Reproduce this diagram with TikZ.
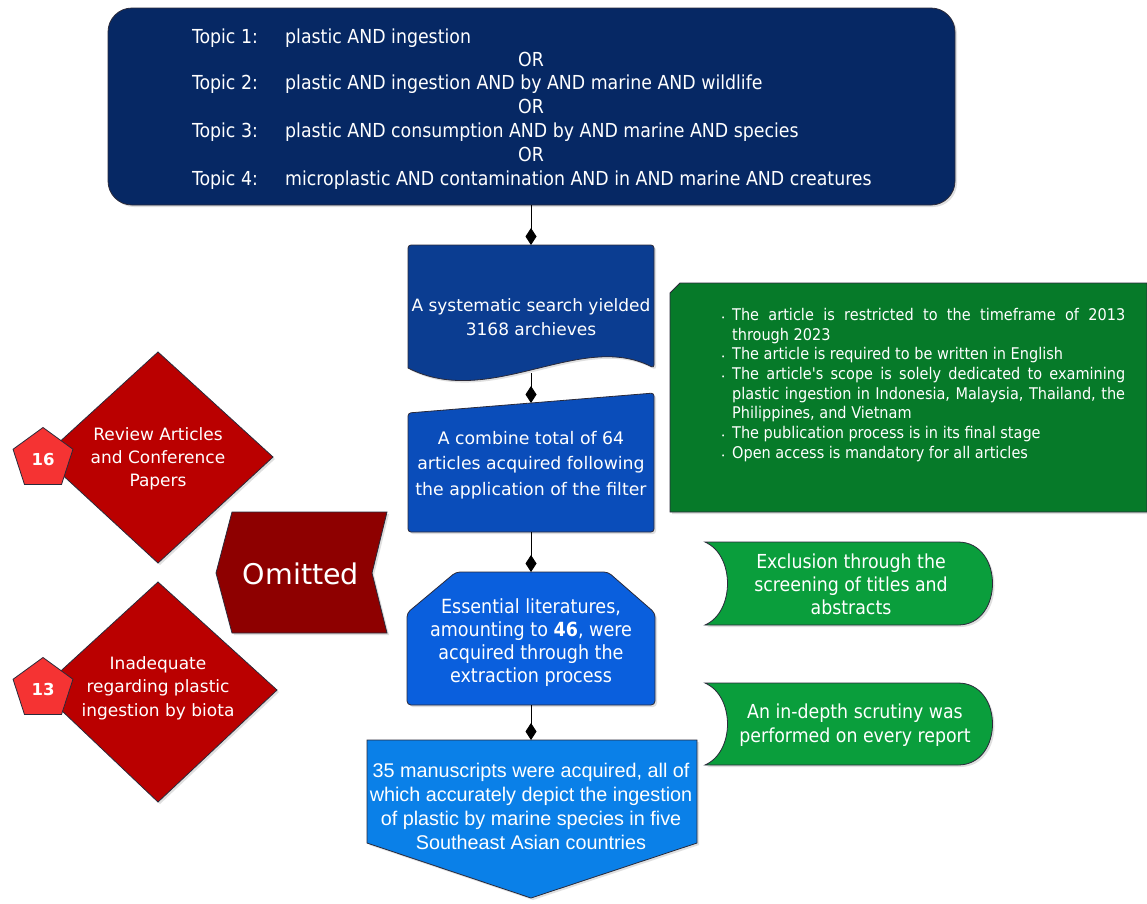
\documentclass[tikz,border=0pt]{standalone}
\usepackage{fontspec}
\setmainfont{DejaVu Sans}
\newfontfamily\cond{DejaVu Sans Condensed}
\newfontfamily\verd{DejaVu Sans}
\newfontfamily\arial{Liberation Sans}
\usetikzlibrary{shapes.geometric,arrows.meta,shadows}
\definecolor{navy}{HTML}{062864}
\definecolor{bluea}{HTML}{0B3D91}
\definecolor{blueb}{HTML}{0A4DBA}
\definecolor{bluec}{HTML}{0A5FDD}
\definecolor{blued}{HTML}{0A80E8}
\definecolor{greena}{HTML}{067A29}
\definecolor{greenb}{HTML}{0A9E3C}
\definecolor{reda}{HTML}{BA0000}
\definecolor{redb}{HTML}{8E0000}
\definecolor{redc}{HTML}{F53333}
\definecolor{edge}{HTML}{2A2A3A}
\newcommand{\bul}{\llap{{\fontsize{7}{7}\selectfont\textbullet}\hspace{7pt}}}
\begin{document}
\begin{tikzpicture}[x=1pt,y=-1pt,
  boxshape/.style={draw=edge,line width=0.8pt,drop shadow={shadow xshift=2pt,shadow yshift=-2pt,opacity=0.25}},
  txt/.style={text=white,align=center,inner sep=0pt},
  conn/.style={draw=black,line width=0.8pt,-{Diamond[length=17pt,width=11pt]}},
  pent/.style={regular polygon,regular polygon sides=5,minimum size=63pt,inner sep=0pt,fill=redc,draw=edge,line width=0.8pt,text=white,font=\verd\bfseries\fontsize{16.5}{16.5}\selectfont}
]
\useasboundingbox (0,0) rectangle (1147,903);
\fill[white] (0,0) rectangle (1147,903);

% top box
\path[boxshape,fill=navy,rounded corners=24pt] (108,8) rectangle (955,205);
\coordinate (topS) at (531,205);
\begin{scope}[every node/.style={text=white,inner sep=0pt,font=\cond\fontsize{19.3}{20}\selectfont}]
\node[anchor=base west] (t1) at (192,43) {Topic 1:};
\node[anchor=base west] (p1) at (285,43) {plastic AND ingestion};
\node[anchor=base] (or1) at (531,66) {OR};
\node[anchor=base west] (t2) at (192,89) {Topic 2:};
\node[anchor=base west] (p2) at (285,89) {plastic AND ingestion AND by AND marine AND wildlife};
\node[anchor=base] (or2) at (531,113) {OR};
\node[anchor=base west] (t3) at (192,137) {Topic 3:};
\node[anchor=base west] (p3) at (285,137) {plastic AND consumption AND by AND marine AND species};
\node[anchor=base] (or3) at (531,161) {OR};
\node[anchor=base west] (t4) at (192,185) {Topic 4:};
\node[anchor=base west] (p4) at (285,185) {microplastic AND contamination AND in AND marine AND creatures};
\end{scope}

% box1 document
\path[boxshape,fill=bluea] (408,245) [rounded corners=3pt] -- (654,245) -- (654,368) [sharp corners] .. controls (580,330) and (490,410) .. (408,368) [rounded corners=3pt] -- cycle;
\coordinate (b1N) at (531,245);
\coordinate (b1S) at (531,373);
\node[txt,font=\verd\fontsize{17}{24}\selectfont] (b1) at (531,317) {A systematic search yielded\\3168 archieves};

% box2 manual input
\path[boxshape,fill=blueb,rounded corners=3pt] (408,413) -- (654,393) -- (654,532) -- (408,532) -- cycle;
\coordinate (b2N) at (531,403);
\coordinate (b2S) at (531,532);
\node[txt,font=\verd\fontsize{17.3}{25.5}\selectfont] (b2) at (531,465) {A combine total of 64\\articles acquired following\\the application of the filter};

% box3 chamfered
\path[boxshape,fill=bluec,rounded corners=4pt] (456,572) -- (608,572) -- (655,613) -- (655,705) -- (407,705) -- (407,613) -- cycle;
\coordinate (b3N) at (531,572);
\coordinate (b3S) at (531,705);
\node[txt,font=\cond\fontsize{19.5}{23}\selectfont] (b3) at (531,643) {Essential literatures,\\amounting to \textbf{46}, were\\acquired through the\\extraction process};

% box4 offpage
\path[boxshape,fill=blued] (367,740) -- (697,740) -- (697,843) -- (531,898) -- (367,843) -- cycle;
\coordinate (b4N) at (531,740);
\node[txt,font=\arial\fontsize{19.8}{24}\selectfont] (b4) at (531,806) {35 manuscripts were acquired, all of\\which accurately depict the ingestion\\of plastic by marine species in five\\Southeast Asian countries};

% connectors
\draw[conn] (topS) -- (b1N);
\draw[conn] (b1S) -- (b2N);
\draw[conn] (b2S) -- (b3N);
\draw[conn] (b3S) -- (b4N);

% big green criteria box
\path[boxshape,fill=greena] (680,283) -- (1147,283) -- (1147,512) -- (670,512) -- (670,293) -- cycle;
\node[anchor=north west,text=white,inner sep=0pt,align=left,font=\cond\fontsize{16.1}{19.7}\selectfont] (crit) at (732,308) {%
\bul\makebox[393pt][s]{The article is restricted to the timeframe of 2013}\\
through 2023\\
\bul The article is required to be written in English\\
\bul\makebox[393pt][s]{The article's scope is solely dedicated to examining}\\
\makebox[393pt][s]{plastic ingestion in Indonesia, Malaysia, Thailand, the}\\
Philippines, and Vietnam\\
\bul The publication process is in its final stage\\
\bul Open access is mandatory for all articles};

% green stored-data shapes
\path[boxshape,fill=greenb] (705,542) -- (958,542) .. controls (1004,542) and (1004,625) .. (958,625) -- (705,625) .. controls (735,612) and (735,555) .. (705,542) -- cycle;
\node[txt,font=\cond\fontsize{19.3}{23}\selectfont] (g1) at (851,584) {Exclusion through the\\screening of titles and\\abstracts};
\path[boxshape,fill=greenb] (705,683) -- (958,683) .. controls (1004,683) and (1004,765) .. (958,765) -- (705,765) .. controls (735,752) and (735,696) .. (705,683) -- cycle;
\node[txt,font=\cond\fontsize{19.3}{24}\selectfont] (g2) at (855,725) {An in-depth scrutiny was\\performed on every report};

% red diamonds
\path[boxshape,fill=reda] (158,352) -- (273,457) -- (158,563) -- (43,457) -- cycle;
\node[txt,font=\verd\fontsize{17}{23}\selectfont] (d1) at (158,459) {Review Articles\\and Conference\\Papers};
\path[boxshape,fill=reda] (158,582) -- (277,690) -- (158,802) -- (40,690) -- cycle;
\node[txt,font=\verd\fontsize{17}{23.5}\selectfont] (d2) at (158,688) {Inadequate\\regarding plastic\\ingestion by biota};

% pentagons
\node[pent] (n16) at (43,459) {16};
\node[pent] (n13) at (43,689) {13};

% omitted
\path[boxshape,fill=redb] (232,512) -- (387,512) -- (372,573) -- (387,633) -- (232,633) -- (216,573) -- cycle;
\node[txt,font=\verd\fontsize{28.5}{30}\selectfont] (om) at (301,574) {Omitted};
\end{tikzpicture}
\end{document}
